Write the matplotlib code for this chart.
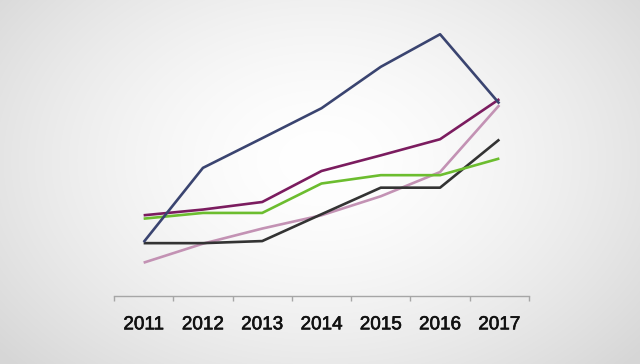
import numpy as np
import matplotlib
matplotlib.use("Agg")
import matplotlib.pyplot as plt
import matplotlib.patheffects as pe

years = ["2011", "2012", "2013", "2014", "2015", "2016", "2017"]
navy = [20.5, 49.0, 60.4, 71.9, 87.8, 100.3, 73.7]
purple = [30.8, 33.0, 35.9, 47.8, 53.8, 60.0, 75.4]
green = [29.5, 31.7, 31.7, 43.0, 46.2, 46.2, 52.6]
pink = [12.6, 19.9, 25.7, 30.8, 38.1, 47.4, 73.1]
black = [20.1, 20.1, 20.9, 31.2, 41.4, 41.4, 59.9]

W, H = 640, 364
fig = plt.figure(figsize=(W / 100, H / 100), dpi=100)

# radial gradient background
bg = fig.add_axes([0, 0, 1, 1])
yy, xx = np.mgrid[0:H, 0:W]
r = np.sqrt(((xx - 320) / 420.0) ** 2 + ((yy - 160) / 300.0) ** 2)
r = np.clip(r, 0, 1)
val = 1.0 - 0.16 * r ** 1.6
img = np.dstack([val, val, val])
bg.imshow(img, extent=[0, 1, 0, 1], aspect="auto", origin="upper")
bg.set_axis_off()

ax = fig.add_axes([114 / W, (H - 295.5) / H, 415 / W, (295.5 - 9) / H])
ax.patch.set_alpha(0)
x = np.arange(len(years))
lw = 1.9
ax.plot(x, pink, color="#c392b4", lw=lw, solid_capstyle="butt")
ax.plot(x, black, color="#333333", lw=lw, solid_capstyle="butt")
ax.plot(x, green, color="#6cbd2f", lw=lw, solid_capstyle="butt")
ax.plot(x, purple, color="#7b1c5f", lw=lw, solid_capstyle="butt")
ax.plot(x, navy, color="#3a4470", lw=lw, solid_capstyle="butt")

ax.set_xlim(-0.5, len(years) - 0.5)
ax.set_ylim(0, 110)
for s in ["top", "right", "left"]:
    ax.spines[s].set_visible(False)
ax.spines["bottom"].set_color("#a6a6a6")
ax.spines["bottom"].set_linewidth(1.0)
ax.set_yticks([])
ax.set_xticks(np.arange(-0.5, len(years)), minor=False)
ax.set_xticklabels([])
ax.tick_params(axis="x", direction="out", length=3.5, width=1.0, color="#a6a6a6")
ax.set_xticks(x, minor=True)
labels = ax.set_xticklabels(years, minor=True, fontsize=13.6, fontweight="normal",
                            family="Liberation Sans", color="#111111")
for t in labels:
    t.set_path_effects([pe.withStroke(linewidth=0.45, foreground="#111111")])
ax.tick_params(axis="x", which="minor", length=0, pad=15)

fig.savefig("out.png", dpi=100)
